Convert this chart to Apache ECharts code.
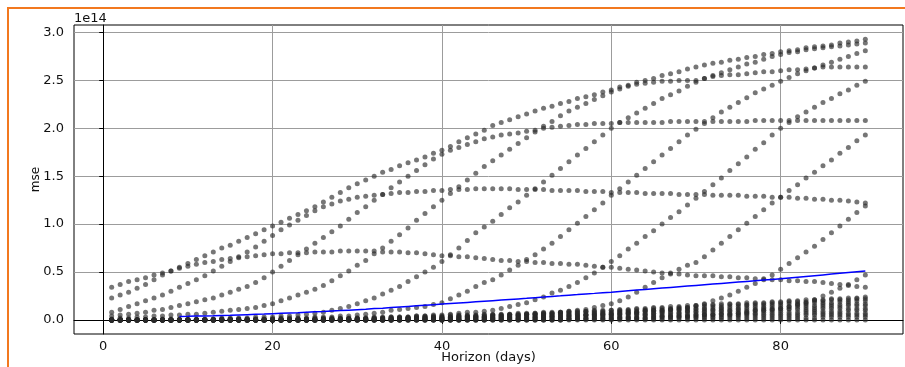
<!DOCTYPE html>
<html>
<head>
<meta charset="utf-8">
<script src="https://cdn.jsdelivr.net/npm/echarts@6/dist/echarts.min.js"></script>
<style>
  html, body { margin: 0; padding: 0; background: #fff; }
  #chart { position: absolute; left: 0; top: 0; width: 905px; height: 367px; }
  #frame { position: absolute; left: 7px; top: 7px; width: 898px; height: 360px;
    border-top: 2px solid #f2781f; border-left: 2px solid #f2781f; pointer-events: none; }
</style>
</head>
<body>
<div id="chart"></div>
<div id="frame"></div>
<script>
// horizon in days, one point per day
const horizon = [
  1,2,3,4,5,6,7,8,9,10, 11,12,13,14,15,16,17,18,19,20,
  21,22,23,24,25,26,27,28,29,30, 31,32,33,34,35,36,37,38,39,40,
  41,42,43,44,45,46,47,48,49,50, 51,52,53,54,55,56,57,58,59,60,
  61,62,63,64,65,66,67,68,69,70, 71,72,73,74,75,76,77,78,79,80,
  81,82,83,84,85,86,87,88,89,90
];

// mse per cutoff (units of 1e14)
const mseTop = [
  0.34,0.37,0.40,0.42,0.44,0.47,0.49,0.51,0.55,0.59, 0.63,0.67,0.71,0.75,0.78,0.82,0.86,0.90,0.94,0.98,
  1.02,1.06,1.10,1.14,1.18,1.23,1.28,1.33,1.38,1.42, 1.46,1.50,1.54,1.57,1.61,1.64,1.67,1.70,1.74,1.77,
  1.81,1.86,1.90,1.94,1.98,2.03,2.06,2.09,2.12,2.15, 2.18,2.21,2.23,2.26,2.28,2.31,2.33,2.35,2.38,2.40,
  2.43,2.45,2.48,2.50,2.52,2.55,2.57,2.59,2.62,2.64, 2.66,2.68,2.69,2.71,2.72,2.74,2.75,2.77,2.78,2.80,
  2.81,2.82,2.84,2.85,2.86,2.87,2.89,2.90,2.91,2.93
];
const msePlateauLow = [
  0.23,0.26,0.29,0.33,0.37,0.42,0.47,0.51,0.54,0.56, 0.58,0.60,0.61,0.63,0.64,0.65,0.66,0.67,0.68,0.69,
  0.69,0.70,0.70,0.70,0.71,0.71,0.71,0.72,0.72,0.72, 0.72,0.72,0.71,0.71,0.71,0.70,0.70,0.69,0.68,0.67,
  0.67,0.66,0.66,0.65,0.64,0.63,0.62,0.62,0.61,0.61, 0.60,0.60,0.59,0.59,0.58,0.58,0.57,0.56,0.55,0.55,
  0.54,0.53,0.52,0.51,0.50,0.49,0.48,0.48,0.47,0.46, 0.46,0.46,0.45,0.45,0.44,0.44,0.43,0.43,0.42,0.42,
  0.41,0.41,0.40,0.40,0.39,0.38,0.37,0.36,0.35,0.34
];
const msePlateauMid = [
  0.08,0.11,0.14,0.17,0.20,0.23,0.26,0.30,0.34,0.38, 0.42,0.46,0.51,0.56,0.61,0.66,0.71,0.76,0.82,0.88,
  0.94,0.99,1.04,1.09,1.14,1.18,1.21,1.24,1.26,1.28, 1.29,1.30,1.31,1.32,1.33,1.33,1.34,1.34,1.35,1.35,
  1.36,1.36,1.36,1.37,1.37,1.37,1.37,1.37,1.36,1.36, 1.36,1.36,1.35,1.35,1.35,1.35,1.34,1.34,1.34,1.33,
  1.33,1.33,1.33,1.32,1.32,1.32,1.32,1.31,1.31,1.31, 1.31,1.30,1.30,1.30,1.30,1.29,1.29,1.29,1.28,1.28,
  1.28,1.27,1.27,1.26,1.26,1.25,1.25,1.24,1.23,1.22
];
const mseRiseA = [
  0.04,0.05,0.06,0.07,0.08,0.10,0.11,0.13,0.15,0.17, 0.19,0.21,0.23,0.26,0.29,0.32,0.35,0.39,0.44,0.50,
  0.56,0.62,0.68,0.74,0.80,0.86,0.92,0.98,1.05,1.12, 1.18,1.25,1.31,1.38,1.44,1.50,1.56,1.62,1.68,1.73,
  1.77,1.80,1.83,1.86,1.89,1.91,1.93,1.94,1.95,1.97, 1.98,2.00,2.01,2.02,2.03,2.04,2.04,2.05,2.05,2.05,
  2.06,2.06,2.06,2.06,2.06,2.06,2.07,2.07,2.07,2.07, 2.07,2.07,2.07,2.07,2.07,2.07,2.08,2.08,2.08,2.08,
  2.08,2.08,2.08,2.08,2.08,2.08,2.08,2.08,2.08,2.08
];
const mseRiseB = [
  0.01,0.02,0.02,0.03,0.03,0.04,0.04,0.05,0.05,0.06, 0.06,0.07,0.08,0.09,0.10,0.11,0.12,0.13,0.15,0.17,
  0.20,0.23,0.26,0.29,0.32,0.36,0.41,0.46,0.51,0.57, 0.62,0.69,0.75,0.82,0.89,0.96,1.04,1.11,1.18,1.25,
  1.32,1.39,1.46,1.53,1.60,1.66,1.72,1.78,1.84,1.90, 1.96,2.02,2.07,2.13,2.18,2.22,2.26,2.30,2.34,2.38,
  2.41,2.44,2.46,2.47,2.48,2.49,2.49,2.50,2.50,2.50, 2.52,2.54,2.55,2.56,2.56,2.57,2.58,2.59,2.59,2.60,
  2.61,2.61,2.62,2.63,2.64,2.64,2.64,2.64,2.64,2.64
];
const mseRiseC = [
  0.00,0.00,0.00,0.00,0.00,0.00,0.01,0.01,0.01,0.01, 0.01,0.01,0.01,0.02,0.02,0.02,0.02,0.03,0.03,0.03,
  0.04,0.04,0.05,0.06,0.07,0.08,0.10,0.12,0.14,0.17, 0.20,0.23,0.27,0.31,0.35,0.40,0.45,0.50,0.55,0.61,
  0.68,0.75,0.83,0.91,0.97,1.03,1.10,1.17,1.23,1.30, 1.37,1.44,1.51,1.58,1.65,1.72,1.79,1.86,1.93,2.00,
  2.06,2.11,2.16,2.21,2.26,2.31,2.35,2.39,2.44,2.48, 2.52,2.55,2.58,2.61,2.64,2.67,2.69,2.72,2.75,2.77,
  2.79,2.80,2.82,2.83,2.84,2.85,2.86,2.87,2.88,2.89
];
const mseRiseD = [
  0.00,0.00,0.00,0.00,0.00,0.00,0.00,0.00,0.00,0.00, 0.00,0.00,0.01,0.01,0.01,0.01,0.01,0.01,0.01,0.01,
  0.02,0.02,0.02,0.02,0.03,0.03,0.03,0.04,0.04,0.05, 0.06,0.07,0.08,0.10,0.11,0.12,0.13,0.14,0.16,0.18,
  0.22,0.26,0.30,0.35,0.39,0.42,0.47,0.52,0.57,0.63, 0.68,0.74,0.80,0.87,0.94,1.01,1.08,1.15,1.22,1.30,
  1.37,1.44,1.51,1.58,1.65,1.72,1.79,1.86,1.93,1.99, 2.05,2.11,2.17,2.22,2.27,2.32,2.37,2.41,2.45,2.49,
  2.53,2.57,2.60,2.63,2.66,2.69,2.72,2.75,2.78,2.81
];
const mseRiseE = [
  0.00,0.00,0.00,0.00,0.00,0.00,0.00,0.00,0.00,0.00, 0.00,0.00,0.00,0.00,0.00,0.00,0.00,0.00,0.00,0.01,
  0.01,0.01,0.01,0.01,0.01,0.01,0.01,0.01,0.01,0.02, 0.02,0.02,0.02,0.03,0.03,0.03,0.04,0.04,0.05,0.05,
  0.06,0.07,0.08,0.08,0.09,0.10,0.12,0.14,0.16,0.18, 0.21,0.24,0.28,0.31,0.35,0.39,0.44,0.49,0.55,0.61,
  0.67,0.74,0.80,0.87,0.93,1.00,1.07,1.13,1.20,1.27, 1.34,1.41,1.48,1.56,1.63,1.70,1.78,1.85,1.93,2.00,
  2.06,2.12,2.17,2.22,2.27,2.31,2.36,2.40,2.45,2.49
];
const mseRiseF = [
  0.00,0.00,0.00,0.00,0.00,0.00,0.00,0.00,0.00,0.00, 0.00,0.00,0.00,0.00,0.00,0.00,0.00,0.00,0.00,0.00,
  0.00,0.00,0.00,0.00,0.00,0.01,0.01,0.01,0.01,0.01, 0.01,0.01,0.01,0.01,0.01,0.02,0.02,0.02,0.02,0.02,
  0.02,0.03,0.03,0.03,0.03,0.04,0.04,0.05,0.05,0.06, 0.06,0.07,0.07,0.08,0.09,0.10,0.11,0.13,0.15,0.17,
  0.20,0.24,0.29,0.34,0.39,0.44,0.49,0.53,0.57,0.60, 0.66,0.73,0.80,0.87,0.94,1.01,1.08,1.15,1.22,1.28,
  1.35,1.41,1.48,1.54,1.61,1.67,1.74,1.80,1.87,1.93
];
const mseRiseG = [
  0.00,0.00,0.00,0.00,0.00,0.00,0.00,0.00,0.00,0.00, 0.00,0.00,0.00,0.00,0.00,0.00,0.00,0.00,0.00,0.00,
  0.00,0.00,0.00,0.00,0.00,0.00,0.00,0.00,0.00,0.00, 0.00,0.00,0.00,0.00,0.00,0.01,0.01,0.01,0.01,0.01,
  0.01,0.01,0.01,0.01,0.01,0.02,0.02,0.02,0.02,0.02, 0.02,0.03,0.03,0.03,0.04,0.04,0.05,0.05,0.06,0.06,
  0.07,0.07,0.08,0.09,0.10,0.10,0.11,0.12,0.13,0.15, 0.17,0.20,0.23,0.26,0.30,0.34,0.38,0.42,0.47,0.53,
  0.59,0.65,0.71,0.77,0.84,0.91,0.98,1.05,1.12,1.19
];
const mseRiseH = [
  0.00,0.00,0.00,0.00,0.00,0.00,0.00,0.00,0.00,0.00, 0.00,0.00,0.00,0.00,0.00,0.00,0.00,0.00,0.00,0.00,
  0.00,0.00,0.00,0.00,0.00,0.00,0.00,0.00,0.00,0.00, 0.00,0.00,0.00,0.00,0.00,0.00,0.00,0.00,0.00,0.00,
  0.00,0.00,0.00,0.00,0.00,0.00,0.00,0.00,0.00,0.00, 0.00,0.00,0.00,0.00,0.01,0.01,0.01,0.01,0.01,0.01,
  0.02,0.02,0.02,0.02,0.03,0.03,0.03,0.04,0.04,0.04, 0.05,0.05,0.06,0.06,0.07,0.08,0.09,0.10,0.11,0.12,
  0.14,0.16,0.18,0.21,0.25,0.29,0.33,0.37,0.42,0.47
];
// small-error cutoffs (dense band near zero)
const mseLow1 = [
  0.00,0.00,0.00,0.00,0.00,0.00,0.00,0.00,0.00,0.00, 0.00,0.00,0.00,0.01,0.01,0.01,0.01,0.01,0.01,0.01,
  0.01,0.01,0.01,0.01,0.02,0.02,0.02,0.02,0.02,0.02, 0.02,0.03,0.03,0.03,0.03,0.03,0.04,0.04,0.04,0.04,
  0.05,0.05,0.05,0.05,0.06,0.06,0.06,0.06,0.07,0.07, 0.07,0.08,0.08,0.08,0.09,0.09,0.09,0.10,0.10,0.10,
  0.11,0.11,0.12,0.12,0.13,0.13,0.14,0.14,0.15,0.15, 0.16,0.16,0.17,0.17,0.17,0.18,0.18,0.18,0.19,0.19,
  0.20,0.20,0.21,0.21,0.21,0.22,0.22,0.23,0.23,0.24
];
const mseLow2 = [
  0.00,0.00,0.00,0.00,0.00,0.00,0.00,0.00,0.00,0.00, 0.00,0.00,0.00,0.00,0.00,0.00,0.00,0.00,0.00,0.00,
  0.00,0.00,0.00,0.01,0.01,0.01,0.01,0.01,0.01,0.01, 0.01,0.02,0.02,0.02,0.02,0.02,0.03,0.03,0.03,0.03,
  0.03,0.04,0.04,0.04,0.04,0.05,0.05,0.05,0.05,0.06, 0.06,0.06,0.06,0.07,0.07,0.07,0.08,0.08,0.08,0.08,
  0.09,0.09,0.09,0.10,0.10,0.10,0.11,0.11,0.12,0.12, 0.12,0.13,0.13,0.14,0.14,0.15,0.15,0.15,0.16,0.16,
  0.17,0.17,0.17,0.18,0.18,0.18,0.19,0.19,0.20,0.20
];
const mseLow3 = [
  0.00,0.00,0.00,0.00,0.00,0.00,0.00,0.00,0.00,0.00, 0.00,0.00,0.00,0.00,0.00,0.00,0.00,0.00,0.00,0.00,
  0.00,0.00,0.00,0.00,0.00,0.00,0.00,0.01,0.01,0.01, 0.01,0.01,0.01,0.01,0.01,0.02,0.02,0.02,0.02,0.02,
  0.02,0.02,0.03,0.03,0.03,0.03,0.03,0.03,0.04,0.04, 0.04,0.04,0.04,0.05,0.05,0.05,0.05,0.06,0.06,0.06,
  0.06,0.07,0.07,0.07,0.07,0.08,0.08,0.08,0.09,0.09, 0.09,0.10,0.10,0.10,0.11,0.11,0.11,0.12,0.12,0.12,
  0.12,0.13,0.13,0.13,0.14,0.14,0.14,0.15,0.15,0.15
];
const mseLow4 = [
  0.00,0.00,0.00,0.00,0.00,0.00,0.00,0.00,0.00,0.00, 0.00,0.00,0.00,0.00,0.00,0.00,0.00,0.00,0.00,0.00,
  0.00,0.00,0.00,0.00,0.00,0.00,0.00,0.00,0.00,0.00, 0.00,0.00,0.00,0.00,0.01,0.01,0.01,0.01,0.01,0.01,
  0.01,0.01,0.01,0.02,0.02,0.02,0.02,0.02,0.02,0.02, 0.03,0.03,0.03,0.03,0.03,0.03,0.04,0.04,0.04,0.04,
  0.04,0.04,0.05,0.05,0.05,0.05,0.05,0.06,0.06,0.06, 0.06,0.06,0.07,0.07,0.07,0.07,0.07,0.08,0.08,0.08,
  0.08,0.08,0.09,0.09,0.09,0.09,0.09,0.10,0.10,0.10
];
const mseLow5 = [
  0.00,0.00,0.00,0.00,0.00,0.00,0.00,0.00,0.00,0.00, 0.00,0.00,0.00,0.00,0.00,0.00,0.00,0.00,0.00,0.00,
  0.00,0.00,0.00,0.00,0.00,0.00,0.00,0.00,0.00,0.00, 0.00,0.00,0.00,0.00,0.00,0.00,0.00,0.00,0.00,0.00,
  0.00,0.00,0.00,0.00,0.00,0.01,0.01,0.01,0.01,0.01, 0.01,0.01,0.01,0.01,0.01,0.01,0.02,0.02,0.02,0.02,
  0.02,0.02,0.02,0.02,0.02,0.03,0.03,0.03,0.03,0.03, 0.03,0.03,0.03,0.04,0.04,0.04,0.04,0.04,0.04,0.04,
  0.04,0.04,0.05,0.05,0.05,0.05,0.05,0.05,0.05,0.05
];
const mseLow6 = [
  0.00,0.00,0.00,0.00,0.00,0.00,0.00,0.00,0.00,0.00, 0.00,0.00,0.00,0.00,0.00,0.00,0.00,0.00,0.00,0.00,
  0.00,0.00,0.00,0.00,0.00,0.00,0.01,0.01,0.01,0.01, 0.01,0.01,0.02,0.02,0.02,0.02,0.02,0.03,0.03,0.03,
  0.03,0.04,0.04,0.04,0.05,0.05,0.05,0.06,0.06,0.06, 0.07,0.07,0.07,0.08,0.08,0.08,0.09,0.09,0.09,0.10,
  0.10,0.10,0.11,0.11,0.12,0.12,0.12,0.13,0.13,0.14, 0.14,0.15,0.15,0.16,0.16,0.16,0.17,0.17,0.18,0.18,
  0.19,0.19,0.19,0.20,0.20,0.21,0.21,0.21,0.22,0.22
];
const mseLow7 = [
  0.00,0.00,0.00,0.00,0.00,0.00,0.00,0.00,0.00,0.00, 0.00,0.00,0.00,0.00,0.00,0.00,0.00,0.00,0.00,0.00,
  0.00,0.00,0.00,0.00,0.00,0.00,0.00,0.00,0.01,0.01, 0.01,0.01,0.01,0.01,0.02,0.02,0.02,0.02,0.02,0.02,
  0.03,0.03,0.03,0.03,0.03,0.04,0.04,0.04,0.04,0.05, 0.05,0.05,0.05,0.06,0.06,0.06,0.06,0.07,0.07,0.07,
  0.08,0.08,0.08,0.09,0.09,0.09,0.10,0.10,0.10,0.11, 0.11,0.11,0.12,0.12,0.12,0.13,0.13,0.13,0.14,0.14,
  0.14,0.15,0.15,0.15,0.16,0.16,0.16,0.17,0.17,0.17
];
const mseLow8 = [
  0.00,0.00,0.00,0.00,0.00,0.00,0.00,0.00,0.00,0.00, 0.00,0.00,0.00,0.00,0.00,0.00,0.00,0.00,0.00,0.00,
  0.00,0.00,0.00,0.00,0.00,0.00,0.00,0.00,0.00,0.00, 0.00,0.00,0.00,0.01,0.01,0.01,0.01,0.01,0.01,0.01,
  0.02,0.02,0.02,0.02,0.02,0.02,0.03,0.03,0.03,0.03, 0.03,0.04,0.04,0.04,0.04,0.04,0.05,0.05,0.05,0.05,
  0.06,0.06,0.06,0.06,0.07,0.07,0.07,0.07,0.08,0.08, 0.08,0.08,0.09,0.09,0.09,0.09,0.10,0.10,0.10,0.10,
  0.11,0.11,0.11,0.11,0.12,0.12,0.12,0.12,0.12,0.12
];
const mseLow9 = [
  0.00,0.00,0.00,0.00,0.00,0.00,0.00,0.00,0.00,0.00, 0.00,0.00,0.00,0.00,0.00,0.00,0.00,0.00,0.00,0.00,
  0.00,0.00,0.00,0.00,0.00,0.00,0.00,0.00,0.00,0.00, 0.00,0.00,0.00,0.00,0.00,0.00,0.00,0.00,0.00,0.00,
  0.00,0.00,0.01,0.01,0.01,0.01,0.01,0.01,0.01,0.01, 0.02,0.02,0.02,0.02,0.02,0.02,0.02,0.03,0.03,0.03,
  0.03,0.03,0.03,0.04,0.04,0.04,0.04,0.04,0.04,0.05, 0.05,0.05,0.05,0.05,0.05,0.06,0.06,0.06,0.06,0.06,
  0.06,0.06,0.07,0.07,0.07,0.07,0.07,0.07,0.07,0.07
];
const mseLow10 = [
  0.00,0.00,0.00,0.00,0.00,0.00,0.00,0.00,0.00,0.00, 0.00,0.00,0.00,0.00,0.00,0.00,0.00,0.00,0.00,0.00,
  0.00,0.00,0.00,0.00,0.00,0.00,0.00,0.00,0.00,0.00, 0.00,0.00,0.00,0.00,0.00,0.00,0.00,0.00,0.00,0.00,
  0.00,0.00,0.00,0.00,0.00,0.00,0.00,0.00,0.00,0.00, 0.00,0.00,0.00,0.00,0.01,0.01,0.01,0.01,0.01,0.01,
  0.01,0.01,0.01,0.01,0.01,0.01,0.01,0.02,0.02,0.02, 0.02,0.02,0.02,0.02,0.02,0.02,0.02,0.02,0.02,0.02,
  0.02,0.02,0.02,0.02,0.03,0.03,0.03,0.03,0.03,0.03
];
const mseLow0 = [
  0.00,0.00,0.00,0.00,0.00,0.00,0.00,0.00,0.00,0.00, 0.00,0.00,0.00,0.00,0.00,0.00,0.00,0.00,0.00,0.00,
  0.00,0.00,0.00,0.00,0.00,0.00,0.00,0.00,0.00,0.00, 0.00,0.00,0.00,0.00,0.00,0.00,0.00,0.00,0.00,0.00,
  0.00,0.00,0.00,0.00,0.00,0.00,0.00,0.00,0.00,0.00, 0.00,0.00,0.00,0.00,0.00,0.00,0.00,0.00,0.00,0.00,
  0.00,0.00,0.00,0.00,0.00,0.00,0.00,0.00,0.00,0.00, 0.00,0.00,0.00,0.00,0.00,0.00,0.00,0.00,0.00,0.00,
  0.00,0.00,0.00,0.00,0.00,0.00,0.00,0.00,0.00,0.00
];

// rolling mean, days 9..90
const rollingStart = 9;
const rollingMse = [
  0.035,0.037,0.040,0.042,0.044,0.047,0.049,0.052,0.055,0.058,0.061,0.065,
  0.069,0.073,0.076,0.080,0.084,0.088,0.093,0.097,0.102,0.107,
  0.112,0.118,0.123,0.129,0.135,0.141,0.147,0.153,0.159,0.165,
  0.171,0.177,0.183,0.189,0.195,0.201,0.207,0.213,0.219,0.225,
  0.232,0.238,0.245,0.251,0.258,0.264,0.271,0.277,0.284,0.290,
  0.297,0.304,0.311,0.318,0.325,0.332,0.339,0.346,0.353,0.360,
  0.367,0.374,0.381,0.388,0.395,0.402,0.409,0.416,0.423,0.430,
  0.438,0.446,0.454,0.462,0.470,0.478,0.486,0.494,0.502,0.510
];

const xTicks = [0, 20, 40, 60, 80];
const yTicks = [0, 0.5, 1.0, 1.5, 2.0, 2.5, 3.0];

const cutoffs = [
  mseTop, msePlateauLow, msePlateauMid, mseRiseA, mseRiseB, mseRiseC, mseRiseD,
  mseRiseE, mseRiseF, mseRiseG, mseRiseH,
  mseLow0, mseLow1, mseLow2, mseLow3, mseLow4, mseLow5, mseLow6, mseLow7, mseLow8, mseLow9, mseLow10
];
const dots = [];
cutoffs.forEach((vals) => vals.forEach((v, i) => dots.push([horizon[i], v])));
const rollingLine = rollingMse.map((v, i) => [horizon[i + rollingStart - 1], v]);

const font = 'DejaVu Sans';
const chart = echarts.init(document.getElementById('chart'));

chart.setOption({
  animation: false,
  grid: {
    left: 74, right: 2, top: 25, bottom: 33,
    containLabel: false, outerBoundsMode: 'none',
    show: true, borderColor: '#000', borderWidth: 1,
  },
  xAxis: {
    type: 'value',
    min: -3.45,
    max: 94.45,
    name: 'Horizon (days)',
    nameLocation: 'middle',
    nameGap: 17,
    nameMoveOverlap: false,
    nameTextStyle: { fontFamily: font, fontSize: 13, color: '#111' },
    axisLine: { show: true, lineStyle: { color: '#000' } },
    axisTick: { show: true, length: 4, customValues: xTicks, lineStyle: { color: '#000' } },
    axisLabel: { customValues: xTicks, margin: 6, fontFamily: font, fontSize: 13, color: '#111' },
    splitLine: { show: true, lineStyle: { color: '#9c9c9c', width: 1 } },
  },
  yAxis: {
    type: 'value',
    min: -0.147,
    max: 3.078,
    name: 'mse',
    nameLocation: 'middle',
    nameGap: 32,
    nameMoveOverlap: false,
    nameTextStyle: { fontFamily: font, fontSize: 12, color: '#111' },
    axisLine: { show: true, lineStyle: { color: '#000' } },
    axisTick: { show: true, length: 4, customValues: yTicks, lineStyle: { color: '#000' } },
    axisLabel: {
      customValues: yTicks,
      margin: 10,
      fontFamily: font,
      fontSize: 13,
      color: '#111',
      formatter: (v) => v.toFixed(1),
    },
    splitLine: { show: true, lineStyle: { color: '#9c9c9c', width: 1 } },
  },
  graphic: [
    { type: 'text', left: 74, top: 12, style: { text: '1e14', font: '13px "DejaVu Sans"', fill: '#111' } },
  ],
  series: [
    {
      type: 'scatter',
      data: dots,
      symbolSize: 5,
      itemStyle: { color: 'rgba(40,40,40,0.64)', opacity: 1 },
      silent: true,
      z: 2,
    },
    {
      type: 'line',
      data: rollingLine,
      showSymbol: false,
      lineStyle: { color: '#0000ff', width: 1.5 },
      silent: true,
      z: 3,
    },
  ],
});
</script>
</body>
</html>
